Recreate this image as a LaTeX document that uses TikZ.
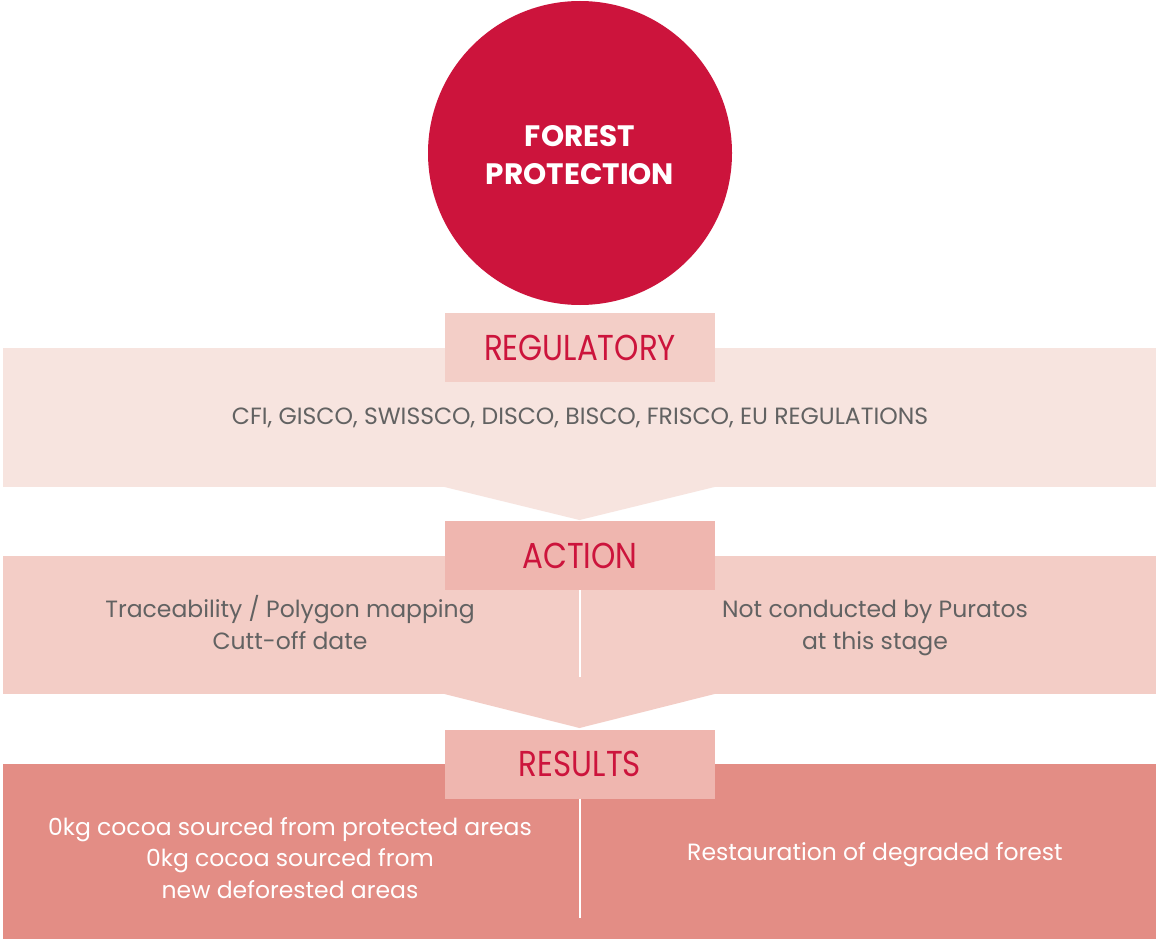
\documentclass[tikz,border=0pt]{standalone}
\usepackage{fontspec}
\setmainfont{Poppins}
\newfontfamily\condfont[FakeStretch=0.86]{Poppins}
\newfontfamily\bodyfont{Poppins}
\definecolor{crimson}{HTML}{CC143C}
\definecolor{bandA}{HTML}{F7E4DF}
\definecolor{labA}{HTML}{F3CEC7}
\definecolor{bandB}{HTML}{F3CDC6}
\definecolor{labB}{HTML}{EFB6AF}
\definecolor{bandC}{HTML}{E38D85}
\definecolor{labC}{HTML}{EFB6AF}
\definecolor{txtgray}{HTML}{626262}
\begin{document}
\begin{tikzpicture}[x=1pt,y=-1pt,
  every node/.style={inner sep=0pt, outer sep=0pt},
  band/.style={rectangle, minimum width=1153pt},
  labbox/.style={rectangle, minimum width=270pt, minimum height=69pt, text=crimson, font=\condfont\fontsize{36}{40}\selectfont},
  body/.style={text=txtgray, align=center, font=\bodyfont\fontsize{23.5}{32}\selectfont},
  bodyw/.style={text=white, align=center, font=\bodyfont\fontsize{23.5}{31.5}\selectfont},
  divider/.style={draw=white, line width=2pt}]
\useasboundingbox (0,0) rectangle (1156,939);
\fill[white] (0,0) rectangle (1156,939);
% circle
\node[circle, fill=crimson, minimum size=304pt] (forest) at (580,153) {};
\node[text=white, align=center, font=\bfseries\fontsize{29.5}{38}\selectfont] (forestlbl) at (580,155) {FOREST\\PROTECTION};
% bands
\node[band, fill=bandA, minimum height=139pt] (regband) at (579.5,417.5) {};
\node[band, fill=bandB, minimum height=138pt] (actband) at (579.5,625) {};
\node[band, fill=bandC, minimum height=175pt] (resband) at (579.5,851.5) {};
% arrow tips
\fill[bandA] ([xshift=-135pt]regband.south) -- ([yshift=-33pt]regband.south) -- ([xshift=135pt]regband.south) -- cycle;
\fill[bandB] ([xshift=-135pt]actband.south) -- ([yshift=-34pt]actband.south) -- ([xshift=135pt]actband.south) -- cycle;
% label boxes
\node[labbox, fill=labA] (reglab) at (580,347.5) {REGULATORY};
\node[labbox, fill=labB] (actlab) at (580,555.5) {ACTION};
\node[labbox, fill=labC] (reslab) at (580,764) {RESULTS};
% dividers
\coordinate (actend) at (580,677);
\coordinate (resend) at (580,918);
\draw[divider] (actlab.south) -- (actend);
\draw[divider] (reslab.south) -- (resend);
% texts
\node[body] (regtxt) at (580,418) {CFI, GISCO, SWISSCO, DISCO, BISCO, FRISCO, EU REGULATIONS};
\node[body] (actleft) at (290,623) {Traceability / Polygon mapping\\Cutt-off date};
\node[body] (actright) at (875,628) {Not conducted by Puratos\\at this stage};
\node[bodyw] (resleft) at (290,858) {0kg cocoa sourced from protected areas\\0kg cocoa sourced from\\new deforested areas};
\node[bodyw] (resright) at (875,855) {Restauration of degraded forest};
\end{tikzpicture}
\end{document}
